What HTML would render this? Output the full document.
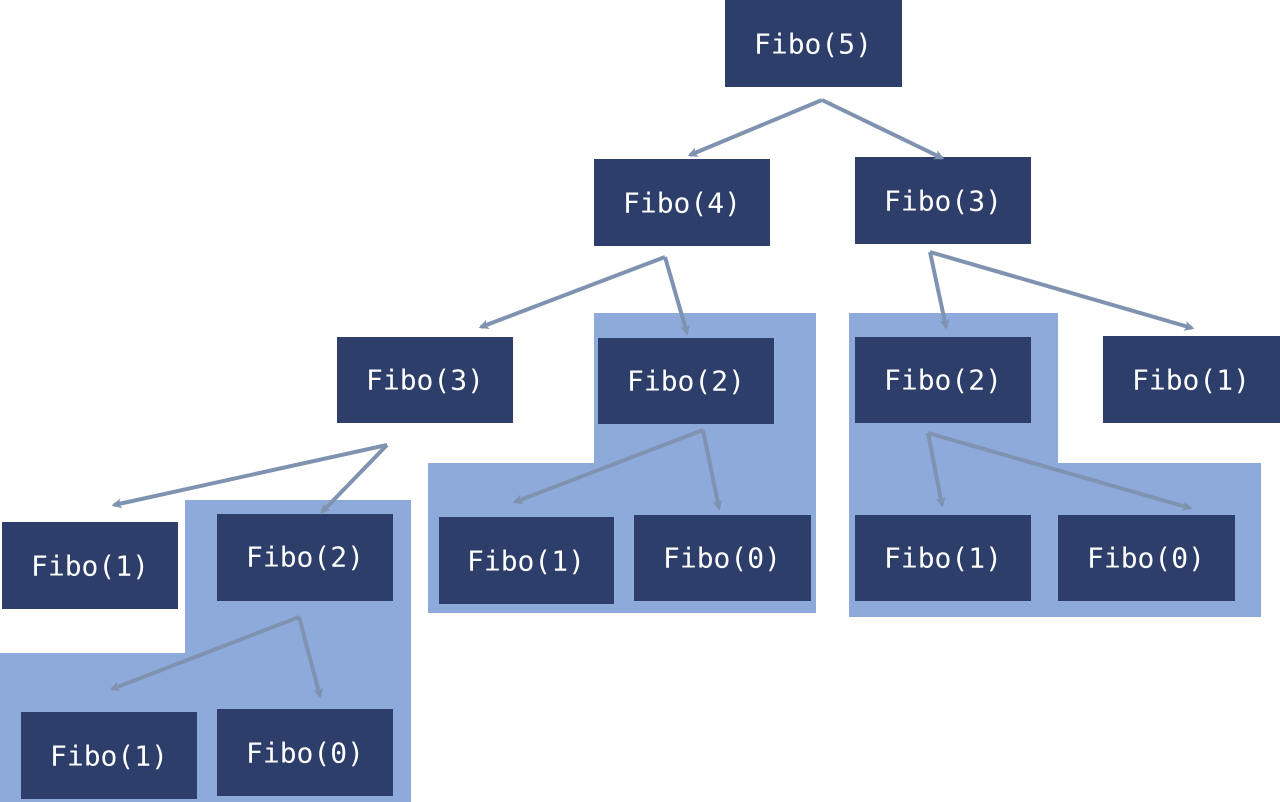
<!DOCTYPE html>
<html><head><meta charset="utf-8"><style>
html,body{margin:0;padding:0;background:#fff;width:1280px;height:802px;overflow:hidden}
svg text{font-family:"DejaVu Sans Mono","Liberation Mono",monospace;font-size:28px;fill:#fff;text-anchor:middle;dominant-baseline:central}
</style></head><body>
<svg width="1280" height="802" viewBox="0 0 1280 802" xmlns="http://www.w3.org/2000/svg">
<defs>
<marker id="a" markerWidth="10" markerHeight="10" refX="6" refY="4" orient="auto" markerUnits="userSpaceOnUse" viewBox="0 0 8 8">
<path d="M0,0 L8,4 L0,8 L2,4 Z" fill="#7f93b0"/>
</marker>
</defs>
<g fill="#8eaadb">
<polygon points="185,500 411,500 411,802 0,802 0,653 185,653"/>
<polygon points="594,313 816,313 816,613 428,613 428,463 594,463"/>
<polygon points="849,313 1058,313 1058,463 1261,463 1261,617 849,617"/>
</g>
<g fill="#2c3e69">
<rect x="725" y="0" width="177" height="87"/>
<rect x="594" y="159" width="176" height="87"/>
<rect x="855" y="157" width="176" height="87"/>
<rect x="337" y="337" width="176" height="86"/>
<rect x="598" y="338" width="176" height="86"/>
<rect x="855" y="337" width="176" height="86"/>
<rect x="1103" y="336" width="177" height="87"/>
<rect x="2" y="522" width="176" height="87"/>
<rect x="217" y="514" width="176" height="87"/>
<rect x="439" y="517" width="175" height="87"/>
<rect x="634" y="515" width="177" height="86"/>
<rect x="855" y="515" width="176" height="86"/>
<rect x="1058" y="515" width="177" height="86"/>
<rect x="21" y="712" width="176" height="87"/>
<rect x="217" y="709" width="176" height="87"/>
</g>
<g stroke="#7f93b0" stroke-width="4" fill="none" marker-end="url(#a)">
<path d="M822,100 L690,155"/><path d="M822,100 L942,158"/>
<path d="M665,257 L481,327"/><path d="M665,257 L687,333"/>
<path d="M930,252 L946,327"/><path d="M930,252 L1192,328"/>
<path d="M387,445 L114,505"/><path d="M387,445 L322,512"/>
<path d="M703,430 L515,502"/><path d="M703,430 L719,508"/>
<path d="M928,433 L942,505"/><path d="M928,433 L1190,508"/>
<path d="M299,617 L112,689"/><path d="M299,617 L320,696"/>
</g>
<text x="813" y="44">Fibo(5)</text>
<text x="682" y="203">Fibo(4)</text>
<text x="943" y="201">Fibo(3)</text>
<text x="425" y="380">Fibo(3)</text>
<text x="686" y="381">Fibo(2)</text>
<text x="943" y="380">Fibo(2)</text>
<text x="1191" y="380">Fibo(1)</text>
<text x="90" y="566">Fibo(1)</text>
<text x="305" y="557">Fibo(2)</text>
<text x="526" y="561">Fibo(1)</text>
<text x="722" y="558">Fibo(0)</text>
<text x="943" y="558">Fibo(1)</text>
<text x="1146" y="558">Fibo(0)</text>
<text x="109" y="756">Fibo(1)</text>
<text x="305" y="753">Fibo(0)</text>
</svg>
</body></html>
